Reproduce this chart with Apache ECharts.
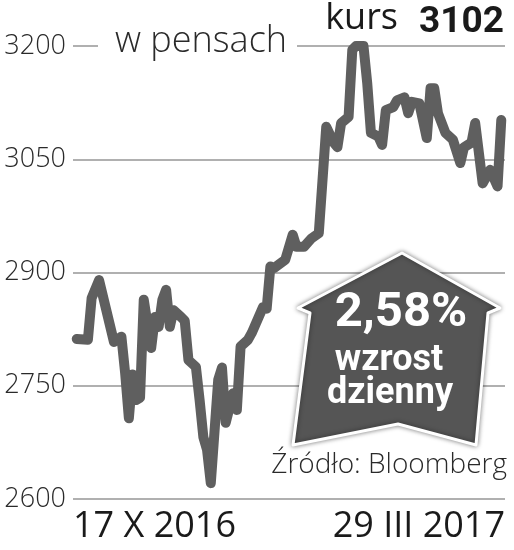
<!DOCTYPE html>
<html>
<head>
<meta charset="utf-8">
<style>
html,body{margin:0;padding:0;background:#fff;}
#chart{width:514px;height:550px;}
</style>
<script src="https://cdn.jsdelivr.net/npm/echarts@6/dist/echarts.min.js"></script>
</head>
<body>
<div id="chart"></div>
<script>
// trading-session index (from 17 X 2016) and closing values
var sessions = [1,4,5,7,11,13,14,15,16,17,18,19,21,22,23,24,25,26,27,29,30,31,33,34,35,36,37,39,40,41,43,44,45,47,48,51,52,53,54,57,59,60,62,64,66,68,70,71,72,74,75,76,78,79,80,82,83,84,86,87,89,90,91,93,95,96,97,98,100,102,104,105,107,108,110,112,114,115];
var values = [2812,2811,2866,2890,2808,2815,2767,2707,2765,2731,2734,2864,2800,2841,2828,2864,2877,2828,2850,2841,2836,2784,2775,2731,2682,2665,2621,2758,2774,2701,2740,2718,2802,2811,2820,2854,2852,2908,2906,2917,2950,2934,2934,2945,2952,3093,3072,3066,3098,3106,3195,3200,3200,3151,3085,3080,3069,3115,3119,3128,3132,3111,3126,3124,3078,3144,3144,3111,3085,3076,3045,3066,3072,3098,3018,3036,3014,3102];
var dateLabels = ['17 X 2016', '29 III 2017'];
var yTicks = [2600, 2750, 2900, 3050, 3200];
var unitText = 'w pensach';
var lastLabel = 'kurs';
var lastValue = '3102';
var changeText = '2,58%';
var changeLine1 = 'wzrost';
var changeLine2 = 'dzienny';
var sourceText = 'Źródło: Bloomberg';

var xMax = 116;
var chart = echarts.init(document.getElementById('chart'), null, {renderer:'canvas'});
var data = sessions.map(function(s,i){return [s, values[i]];});
var lineColor = '#5f5f5f';
var lightFont = '"Open Sans", Roboto, sans-serif';
var boldFont = 'Roboto, "Liberation Sans", sans-serif';

chart.setOption({
  animation:false,
  backgroundColor:'#fff',
  grid:{left:73,right:9,top:46,bottom:51},
  xAxis:{
    type:'value', min:0, max:xMax, interval:xMax,
    axisLine:{show:false}, axisTick:{show:false}, splitLine:{show:false},
    axisLabel:{
      fontSize:36, color:'#1a1a1a', fontFamily:lightFont, margin:10,
      alignMinLabel:'left', alignMaxLabel:'right',
      formatter:function(v){return v===0?dateLabels[0]:dateLabels[1];}
    }
  },
  yAxis:{
    type:'value', min:yTicks[0], max:yTicks[yTicks.length-1], interval:150,
    axisLine:{show:false}, axisTick:{show:false},
    splitLine:{lineStyle:{color:'#b0b0b0',width:2}},
    axisLabel:{fontSize:27, color:'#2a2a2a', fontFamily:lightFont, fontWeight:300, margin:7,
      formatter:function(v){return String(v);}}
  },
  series:[{
    type:'line', data:data, symbol:'none', clip:false, z:5,
    lineStyle:{color:lineColor,width:10,join:'round',cap:'round'}
  }],
  graphic:[
    {type:'text', z:50, left:98, top:24,
      style:{text:unitText, fontSize:36, fontWeight:300, fill:'#2a2a2a', fontFamily:lightFont,
        backgroundColor:'#fff', padding:[0,10,0,17]}},
    {type:'text', z:50, right:116, top:1,
      style:{text:lastLabel, fontSize:36, fill:'#1a1a1a', fontFamily:lightFont}},
    {type:'text', z:50, right:10, top:4,
      style:{text:lastValue, fontSize:37, fontWeight:'bold', fill:'#1a1a1a', fontFamily:boldFont}},
    {type:'polygon', z:60,
      shape:{points:[[402,253],[500,308],[488,313],[476,445],[398,424],[293,445],[310,313],[298,308]]},
      style:{fill:'#555555', stroke:'#ffffff', lineWidth:3, lineJoin:'round',
        shadowBlur:5, shadowColor:'rgba(0,0,0,0.45)'}},
    {type:'text', z:70, x:401, y:314,
      style:{text:changeText, fontSize:49, fontWeight:'bold', fill:'#fff', fontFamily:boldFont,
        align:'center', verticalAlign:'middle'}},
    {type:'text', z:70, x:389, y:361,
      style:{text:changeLine1, fontSize:36, fontWeight:'bold', fill:'#fff', fontFamily:boldFont,
        align:'center', verticalAlign:'middle'}},
    {type:'text', z:70, x:390, y:394,
      style:{text:changeLine2, fontSize:36, fontWeight:'bold', fill:'#fff', fontFamily:boldFont,
        align:'center', verticalAlign:'middle'}},
    {type:'text', z:50, right:7, top:451,
      style:{text:sourceText, fontSize:28, fontWeight:300, fill:'#2a2a2a', fontFamily:lightFont}}
  ]
});
</script>
</body>
</html>
